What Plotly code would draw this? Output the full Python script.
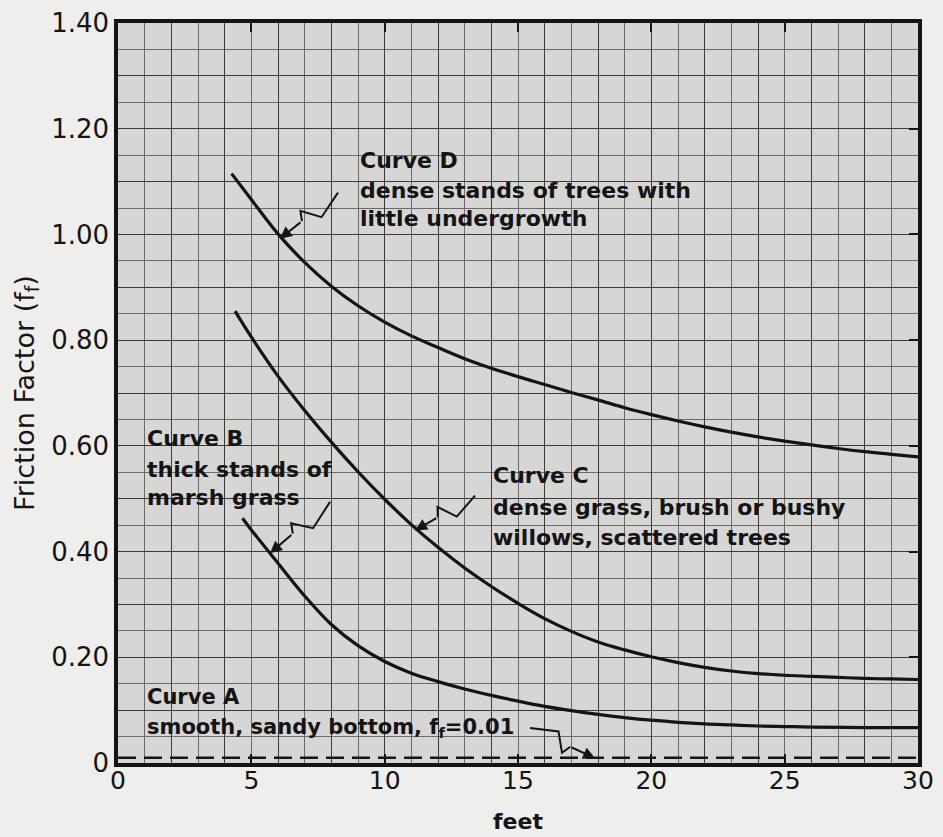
import plotly.graph_objects as go

# ---- data ----
curve_d_x = [4.26, 5, 6, 7, 8, 9, 10, 11, 12, 13, 14, 15, 16, 17, 18, 19, 20, 21, 22, 23, 24, 25, 26, 27, 28, 29, 30]
curve_d_y = [1.115, 1.066, 1.001, 0.947, 0.902, 0.865, 0.834, 0.808, 0.786, 0.765, 0.747, 0.731, 0.716, 0.701,
             0.687, 0.672, 0.659, 0.647, 0.636, 0.626, 0.617, 0.609, 0.602, 0.595, 0.589, 0.584, 0.579]

curve_c_x = [4.39, 5, 6, 7, 8, 9, 10, 11, 12, 13, 14, 15, 16, 17, 18, 19, 20, 21, 22, 23, 24, 25, 26, 27, 28, 29, 30]
curve_c_y = [0.855, 0.806, 0.732, 0.667, 0.607, 0.551, 0.499, 0.451, 0.408, 0.369, 0.334, 0.302, 0.273, 0.249,
             0.229, 0.214, 0.201, 0.190, 0.181, 0.174, 0.169, 0.166, 0.164, 0.162, 0.160, 0.159, 0.158]

curve_b_x = [4.67, 5, 6, 7, 8, 9, 10, 11, 12, 13, 14, 15, 16, 17, 18, 19, 20, 21, 22, 23, 24, 25, 26, 28, 30]
curve_b_y = [0.463, 0.441, 0.378, 0.316, 0.262, 0.222, 0.192, 0.170, 0.154, 0.140, 0.128, 0.117, 0.107, 0.099,
             0.092, 0.086, 0.081, 0.077, 0.074, 0.072, 0.070, 0.069, 0.068, 0.067, 0.067]

curve_a_x = [0, 30]
curve_a_y = [0.01, 0.01]

x_tick_vals = [0, 5, 10, 15, 20, 25, 30]
x_tick_text = ["0", "5", "10", "15", "20", "25", "30"]
y_tick_vals = [0, 0.1, 0.2, 0.3, 0.4, 0.5, 0.6, 0.7, 0.8, 0.9, 1.0, 1.1, 1.2, 1.3, 1.4]
y_tick_text = ["0", " ", "0.20", " ", "0.40", " ", "0.60", " ", "0.80", " ", "1.00", " ", "1.20", " ", "1.40"]
y_mark_vals = [0, 0.2, 0.4, 0.6, 0.8, 1.0, 1.2, 1.4]

# label blocks: (x, y of each line, lines, font size)
labels = [
    (9.0, [1.140, 1.083, 1.031], ["Curve D", "dense stands of trees with", "little undergrowth"], 22),
    (1.0, [0.613, 0.555, 0.502], ["Curve B", "thick stands of", "marsh grass"], 22),
    (14.0, [0.543, 0.484, 0.426], ["Curve C", "dense grass, brush or bushy", "willows, scattered trees"], 22),
    (1.0, [0.124, 0.067], ["Curve A", "smooth, sandy bottom, f<sub>f</sub>=0.01"], 21),
]
# leaders: (tail x, tail y, head x, head y)
leaders = [
    (8.25, 1.079, 6.07, 0.992),
    (13.39, 0.506, 11.14, 0.440),
    (7.95, 0.494, 5.70, 0.397),
    (15.45, 0.066, 17.89, 0.009),
]

X_RANGE = [0, 30]
Y_RANGE = [0, 1.4]
W, H = 943, 837
M = dict(l=118, r=25, t=23, b=74)
PX_X = (W - M["l"] - M["r"]) / (X_RANGE[1] - X_RANGE[0])
PX_Y = (H - M["t"] - M["b"]) / (Y_RANGE[1] - Y_RANGE[0])

INK = "#141414"
FONT = "DejaVu Sans"
PAPER = "#eeeeec"

fig = go.Figure()

for xs, ys in [(curve_d_x, curve_d_y), (curve_c_x, curve_c_y), (curve_b_x, curve_b_y)]:
    fig.add_trace(go.Scatter(x=xs, y=ys, mode="lines",
                             line=dict(color=INK, width=3.2, shape="spline", smoothing=1.0),
                             hoverinfo="skip", showlegend=False))

fig.add_trace(go.Scatter(x=curve_a_x, y=curve_a_y, mode="lines",
                         line=dict(color=INK, width=2.6, dash="18px,8px"),
                         hoverinfo="skip", showlegend=False))

# invisible trace to carry the labelled x axis and the right tick axis
fig.add_trace(go.Scatter(x=X_RANGE, y=Y_RANGE, xaxis="x2", yaxis="y2", mode="markers",
                         marker=dict(opacity=0), hoverinfo="skip", showlegend=False))

# zig-zag leaders with arrow heads
for tx, ty, hx, hy in leaders:
    dxp = (hx - tx) * PX_X
    dyp = (hy - ty) * PX_Y
    L = (dxp ** 2 + dyp ** 2) ** 0.5
    nx, ny = -dyp / L, dxp / L
    off = 9
    pts = [(0, 0), (0.38, 1), (0.55, -1), (0.62, 0), (1.0, 0)]
    xs, ys = [], []
    for f, s in pts:
        px = dxp * f + nx * off * s
        py = dyp * f + ny * off * s
        xs.append(tx + px / PX_X)
        ys.append(ty + py / PX_Y)
    fig.add_trace(go.Scatter(x=xs[:-1], y=ys[:-1], mode="lines",
                             line=dict(color=INK, width=2), hoverinfo="skip", showlegend=False))
    fig.add_annotation(x=hx, y=hy, ax=xs[-2], ay=ys[-2], axref="x", ayref="y",
                       xref="x", yref="y", text="", showarrow=True,
                       arrowhead=2, arrowsize=1.2, arrowwidth=2, arrowcolor=INK)

for x0, ylist, lines, fs in labels:
    for yy, t in zip(ylist, lines):
        fig.add_annotation(x=x0, y=yy, xref="x", yref="y", text=t, showarrow=False,
                           xanchor="left", yanchor="middle",
                           font=dict(family=FONT, size=fs, color=INK, weight="bold"))

fig.update_layout(
    width=W, height=H, margin=M,
    paper_bgcolor=PAPER, plot_bgcolor="#d6d6d4",
    showlegend=False,
    xaxis=dict(range=X_RANGE, dtick=2, tick0=0, showticklabels=False, ticks="",
               showgrid=True, gridcolor="#3a3a3a", gridwidth=1.4, automargin=False,
               minor=dict(dtick=1, showgrid=True, gridcolor="#6a6a6a", gridwidth=1),
               showline=True, linecolor=INK, linewidth=3.5, mirror=True, zeroline=False),
    xaxis2=dict(range=X_RANGE, overlaying="x", anchor="y2", side="bottom", automargin=False,
                tickvals=x_tick_vals, ticktext=x_tick_text, ticks="inside", ticklen=9,
                tickwidth=2, tickcolor=INK, showgrid=False, zeroline=False, showline=False,
                mirror="ticks",
                tickfont=dict(family=FONT, size=25, color=INK),
                title=dict(text="feet", font=dict(family=FONT, size=22, color=INK, weight="bold"),
                           standoff=19)),
    yaxis=dict(range=Y_RANGE, tickvals=y_tick_vals, ticktext=y_tick_text, automargin=False,
               ticks="", showgrid=True, gridcolor="#3a3a3a", gridwidth=1.4,
               minor=dict(dtick=0.05, tick0=0, showgrid=True, gridcolor="#6a6a6a", gridwidth=0.9),
               showline=True, linecolor=INK, linewidth=3.5, mirror=True, zeroline=False,
               tickfont=dict(family=FONT, size=26, color=INK),
               title=dict(text="Friction Factor (f<sub>f</sub>)",
                          font=dict(family=FONT, size=27, color=INK), standoff=10)),
    yaxis2=dict(range=Y_RANGE, overlaying="y", anchor="x2", side="right", automargin=False,
                tickvals=y_mark_vals, showticklabels=False, ticks="inside", ticklen=9,
                tickwidth=2, tickcolor=INK, showgrid=False, zeroline=False, showline=False),
)

fig.write_html("out.html", config={"displayModeBar": False},
               post_script="document.body.style.margin='0';document.body.style.background='%s';" % PAPER)
